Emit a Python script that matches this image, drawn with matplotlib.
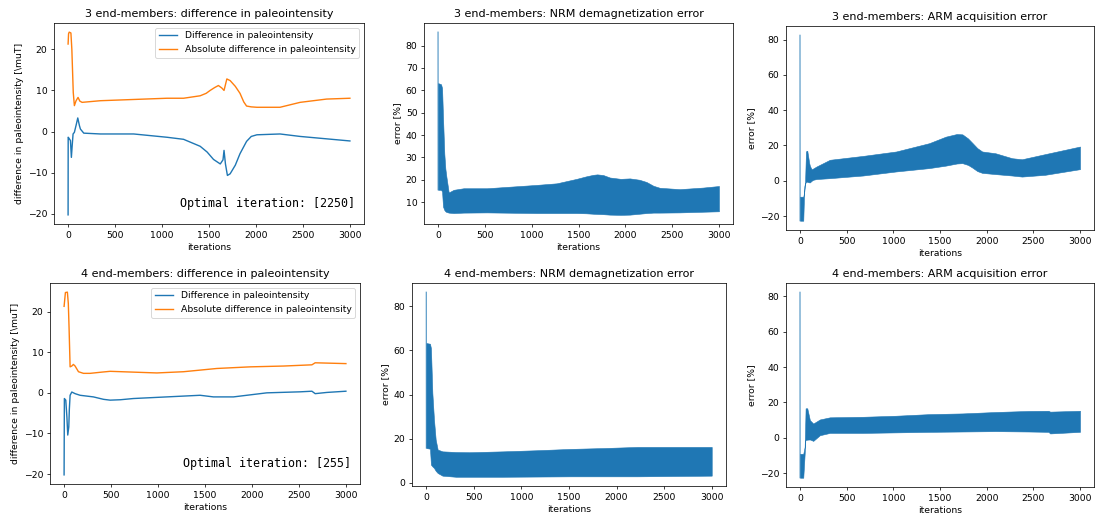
import matplotlib.pyplot as plt

W, H, DPI = 1096, 521, 67

# ---- 3 end-members: difference in paleointensity
em3_diff_x = [0, 1, 5, 25, 35, 45, 53, 67, 85, 103, 120, 131, 167, 344, 698, 1052, 1229, 1406,
              1480, 1548, 1620, 1649, 1660, 1675, 1696, 1725, 1780, 1830, 1900, 1950, 2010, 2256,
              2470, 3000]
em3_diff_y = [-20.3, -1.4, -1.5, -2.2, -6.3, -3.0, -0.6, -0.2, 1.5, 3.3, 1.5, 0.6, -0.4, -0.6, -0.6,
              -1.4, -1.9, -3.6, -5.0, -6.8, -7.9, -6.9, -4.6, -7.9, -10.7, -10.3, -8.2, -5.4, -2.4,
              -1.2, -0.8, -0.6, -1.2, -2.3]
em3_abs_x = [0, 5, 12, 30, 40, 55, 67, 85, 106, 125, 149, 344, 1052, 1229, 1406, 1470, 1512, 1560,
             1600, 1636, 1660, 1690, 1725, 1780, 1830, 1870, 1900, 1950, 2010, 2256, 2470, 2752,
             3000]
em3_abs_y = [21.3, 23.8, 24.2, 24.0, 20.0, 9.5, 6.3, 7.5, 8.3, 7.4, 7.1, 7.5, 8.1, 8.1, 8.7, 9.3,
             10.0, 10.7, 11.2, 10.6, 10.0, 12.8, 12.4, 11.0, 9.3, 7.2, 6.2, 6.0, 5.9, 5.9, 7.1, 7.9,
             8.1]

# ---- 4 end-members: difference in paleointensity
em4_diff_x = [0, 3, 18, 30, 39, 50, 56, 64, 82, 117, 170, 312, 420, 490, 600, 738, 1271, 1448,
              1590, 1803, 2158, 2513, 2638, 2673, 2797, 3000]
em4_diff_y = [-20.2, -1.4, -1.8, -6.0, -10.4, -8.4, -4.0, -0.6, 0.2, -0.2, -0.6, -1.0, -1.6, -1.8,
              -1.7, -1.4, -0.8, -0.6, -1.0, -1.0, 0.0, 0.25, 0.4, -0.2, 0.1, 0.4]
em4_abs_x = [0, 14, 35, 45, 53, 64, 82, 99, 117, 153, 206, 277, 400, 490, 987, 1271, 1626, 1981,
             2336, 2638, 2673, 3000]
em4_abs_y = [21.3, 24.7, 24.8, 22.0, 16.0, 6.4, 6.6, 7.0, 6.6, 5.2, 4.8, 4.8, 5.1, 5.3, 4.9, 5.2,
             6.0, 6.4, 6.6, 6.9, 7.4, 7.2]

# ---- 3 end-members: NRM demagnetization error (oscillation envelope)
em3_nrm_x = [1, 32, 43, 53, 67, 78, 89, 114, 167, 273, 522, 1054, 1267, 1480, 1580, 1657, 1700,
             1764, 1835, 1950, 2048, 2150, 2226, 2300, 2368, 2581, 2830, 3000]
em3_nrm_hi = [63.2, 62.7, 61.0, 48.0, 31.7, 25.0, 21.4, 14.3, 15.5, 16.2, 16.2, 17.7, 18.4, 20.4,
              21.5, 22.2, 22.4, 22.1, 21.0, 20.4, 20.6, 20.0, 19.0, 17.3, 16.4, 15.8, 16.5, 17.2]
em3_nrm_lo = [15.5, 15.5, 14.7, 8.0, 6.5, 5.9, 5.6, 5.3, 5.1, 5.3, 5.4, 5.1, 5.1, 5.1, 5.0, 4.8,
              4.7, 4.6, 4.4, 4.3, 4.4, 4.8, 5.1, 5.3, 5.3, 5.4, 5.7, 5.9]
em3_nrm_spike_x = [0, 1]
em3_nrm_spike_y = [86.0, 15.5]

# ---- 4 end-members: NRM demagnetization error
em4_nrm_x = [1, 39, 49, 64, 81, 99, 120, 170, 311, 452, 806, 1159, 1512, 1866, 2219, 3000]
em4_nrm_hi = [63.3, 63.0, 61.0, 40.7, 28.7, 19.6, 15.1, 14.3, 14.0, 13.9, 14.3, 14.8, 15.4, 15.8,
              16.3, 16.3]
em4_nrm_lo = [15.8, 15.5, 8.3, 7.5, 6.8, 5.5, 4.5, 3.3, 2.8, 2.8, 2.8, 2.9, 3.0, 3.0, 3.0, 3.3]
em4_nrm_spike_x = [0, 1]
em4_nrm_spike_y = [86.3, 15.8]

# ---- 3 end-members: ARM acquisition error
em3_arm_x = [1, 35, 46, 53, 64, 71, 78, 99, 106, 124, 142, 177, 320, 675, 1030, 1384, 1562, 1680,
             1740, 1800, 1846, 1900, 1952, 2094, 2272, 2378, 2626, 3000]
em3_arm_hi = [-9.0, -9.0, -6.0, -3.0, 16.6, 17.0, 17.0, 10.0, 8.5, 6.5, 7.0, 8.1, 11.9, 14.1, 16.6,
              21.3, 25.0, 26.5, 26.3, 24.0, 21.5, 18.5, 16.6, 15.6, 12.8, 12.2, 15.1, 19.4]
em3_arm_lo = [-22.6, -22.6, -3.2, -1.5, -0.8, -0.4, -0.6, -0.9, -0.9, 0.0, 0.6, 1.0, 1.5, 3.0,
              5.3, 7.2, 8.6, 9.8, 10.0, 9.0, 7.5, 5.5, 4.5, 3.8, 3.0, 2.4, 3.4, 6.6]
em3_arm_spike_x = [0, 1]
em3_arm_spike_y = [82.4, -22.6]

# ---- 4 end-members: ARM acquisition error
em4_arm_x = [1, 35, 50, 57, 60, 78, 106, 142, 213, 320, 675, 1030, 1384, 1740, 2094, 2449, 2662,
             2680, 3000]
em4_arm_hi = [-9.0, -9.0, -5.0, 10.0, 16.7, 16.7, 10.0, 8.1, 10.4, 11.6, 11.9, 12.5, 13.4, 13.8,
              14.6, 15.2, 15.3, 14.8, 15.3]
em4_arm_lo = [-22.5, -22.5, -9.0, -1.3, -1.2, -1.0, -0.9, -1.7, 1.5, 2.8, 2.8, 3.1, 3.4, 3.6, 3.8,
              3.6, 3.4, 2.5, 3.4]
em4_arm_spike_x = [0, 1]
em4_arm_spike_y = [82.2, -22.5]

optimal_3 = 2250
optimal_4 = 255

fig = plt.figure(figsize=(W / DPI, H / DPI), dpi=DPI)


def add_ax(left, top, right, bottom):
    return fig.add_axes([left / W, 1 - bottom / H, (right - left) / W, (bottom - top) / H])


def paleo_panel(ax, title, dx, dy, ax_, ay, optimal):
    ax.plot(dx, dy, color='tab:blue', label='Difference in paleointensity')
    ax.plot(ax_, ay, color='tab:orange', label='Absolute difference in paleointensity')
    ax.set_title(title)
    ax.set_xlabel('iterations')
    ax.set_ylabel('difference in paleointensity [\\muT]')
    ax.legend(loc='upper right')
    ax.text(0.97, 0.07, 'Optimal iteration: [%d]' % optimal, transform=ax.transAxes,
            ha='right', va='bottom', family='DejaVu Sans Mono', fontsize=12.5)


def error_panel(ax, title, x, lo, hi, sx, sy):
    ax.fill_between(x, lo, hi, color='tab:blue', lw=0.6, edgecolor='tab:blue')
    ax.plot(sx, sy, color='tab:blue', lw=1.2, alpha=0.8)
    ax.set_title(title)
    ax.set_xlabel('iterations')
    ax.set_ylabel('error [%]')


a1 = add_ax(54, 23, 364, 224)
a2 = add_ax(424, 23, 733, 224)
a3 = add_ax(786, 26, 1094, 230)
a4 = add_ax(50, 283, 360, 484)
a5 = add_ax(412, 283, 726, 486)
a6 = add_ax(786, 283, 1094, 487)

paleo_panel(a1, '3 end-members: difference in paleointensity',
            em3_diff_x, em3_diff_y, em3_abs_x, em3_abs_y, optimal_3)
paleo_panel(a4, '4 end-members: difference in paleointensity',
            em4_diff_x, em4_diff_y, em4_abs_x, em4_abs_y, optimal_4)
error_panel(a2, '3 end-members: NRM demagnetization error',
            em3_nrm_x, em3_nrm_lo, em3_nrm_hi, em3_nrm_spike_x, em3_nrm_spike_y)
error_panel(a5, '4 end-members: NRM demagnetization error',
            em4_nrm_x, em4_nrm_lo, em4_nrm_hi, em4_nrm_spike_x, em4_nrm_spike_y)
error_panel(a3, '3 end-members: ARM acquisition error',
            em3_arm_x, em3_arm_lo, em3_arm_hi, em3_arm_spike_x, em3_arm_spike_y)
error_panel(a6, '4 end-members: ARM acquisition error',
            em4_arm_x, em4_arm_lo, em4_arm_hi, em4_arm_spike_x, em4_arm_spike_y)

a2.set_yticks(range(10, 90, 10))

fig.savefig('out.png', dpi=DPI)
